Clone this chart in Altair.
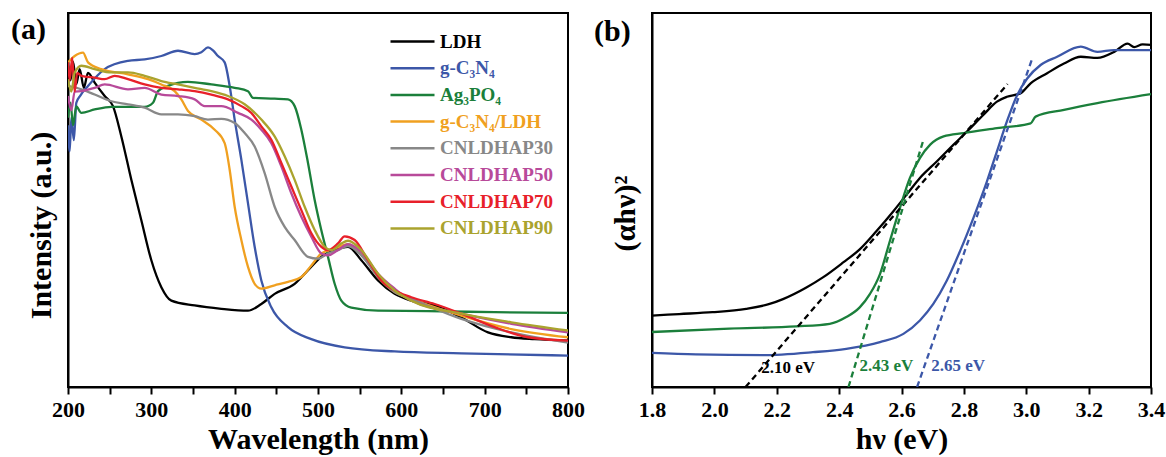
import altair as alt
import pandas as pd

FONT = "Liberation Serif"

# ---------------- panel (a): UV-vis DRS ----------------
names_a = ["LDH", "g-C₃N₄", "Ag₃PO₄", "g-C₃N₄/LDH", "CNLDHAP30", "CNLDHAP50", "CNLDHAP70", "CNLDHAP90"]
colors_a = ["#000000", "#3c57a8", "#1b7f3b", "#f0a020", "#888888", "#b84a9a", "#e8202a", "#aaa32e"]

ldh_wl = [200, 203, 206, 210, 214, 219, 224, 232, 244, 254, 264, 276, 288, 300, 312, 324, 352, 384, 416, 432, 448, 472, 488, 504, 520, 536, 552, 572, 592, 612, 640, 672, 704, 732, 760, 800]
ldh_i = [86, 82, 87, 81, 85, 80, 84, 81.4, 77.8, 75.1, 67.0, 55.4, 44.6, 33.9, 26.7, 23.1, 21.8, 20.9, 20.4, 22.2, 24.9, 27.6, 31.2, 34.8, 36.6, 37.5, 33.9, 28.5, 24.9, 23.1, 21.8, 18.6, 14.6, 13.3, 12.8, 12.4]

gcn_wl = [200, 202, 204, 207, 210, 215, 224, 244, 272, 292, 312, 332, 352, 360, 368, 374, 380, 388, 394, 400, 408, 416, 424, 432, 444, 464, 492, 532, 592, 672, 800]
gcn_i = [70, 63, 72, 66, 76, 78, 80.5, 85, 87.2, 87.6, 88.5, 89.9, 89, 89.5, 90.8, 90, 88.5, 86.8, 80.5, 71.5, 60.8, 49.1, 37.5, 28.5, 21.3, 16.0, 12.8, 10.6, 9.5, 9.0, 8.4]

ag_wl = [200, 203, 206, 210, 216, 232, 252, 292, 302, 308, 320, 344, 372, 400, 416, 422, 448, 464, 472, 480, 488, 496, 504, 512, 520, 528, 540, 572, 632, 712, 800]
ag_i = [72, 76, 70, 75, 73.3, 74.2, 74.9, 74.9, 76.0, 79.1, 80.5, 81.6, 80.9, 80.0, 79.1, 77.3, 77.1, 76.9, 75.1, 68.8, 59.9, 50.0, 41.9, 34.8, 27.6, 23.1, 21.2, 20.4, 20.3, 20.0, 19.8]

cnl_wl = [200, 208, 218, 224, 240, 272, 296, 312, 328, 336, 344, 360, 376, 388, 394, 400, 408, 416, 424, 432, 448, 464, 480, 492, 504, 520, 536, 552, 572, 592, 612, 672, 732, 800]
cnl_i = [86.8, 88.5, 89.4, 86.8, 85.0, 83.6, 82.3, 80.9, 79.1, 76.9, 73.8, 71.5, 68.8, 65.2, 58.1, 48.2, 39.3, 32.1, 27.6, 26.3, 27.2, 28.1, 29.4, 32.5, 35.7, 37.0, 38.2, 35.7, 29.4, 25.4, 23.6, 19.1, 15.5, 13.3]

p30_wl = [200, 216, 232, 252, 272, 292, 312, 332, 352, 368, 384, 400, 412, 424, 436, 448, 460, 472, 488, 500, 512, 524, 536, 552, 572, 592, 612, 672, 732, 800]
p30_i = [80.5, 79.6, 78.2, 76.4, 75.6, 74.7, 72.9, 72.9, 72.4, 71.5, 71.7, 70.6, 67.9, 64.3, 57.2, 48.2, 42.8, 39.3, 34.8, 34.3, 35.7, 36.6, 37.7, 35.2, 29.4, 25.4, 23.6, 18.2, 14.6, 11.9]

p50_wl = [200, 204, 208, 216, 232, 244, 272, 292, 312, 332, 352, 364, 384, 404, 420, 432, 444, 456, 468, 480, 492, 504, 512, 524, 536, 552, 572, 592, 612, 672, 732, 800]
p50_i = [77.8, 74, 79, 79.1, 80.0, 80.9, 79.6, 80.0, 78.2, 77.8, 76.9, 75.1, 75.1, 73.3, 71.5, 68.8, 65.2, 59.0, 51.8, 45.5, 40.2, 35.7, 35.2, 36.6, 38.2, 36.1, 30.3, 26.3, 23.1, 19.6, 16.9, 14.6]

p70_wl = [200, 202, 205, 208, 211, 216, 232, 244, 256, 272, 292, 312, 332, 352, 372, 392, 408, 420, 432, 444, 456, 468, 480, 492, 504, 512, 524, 532, 544, 560, 576, 592, 612, 640, 672, 712, 752, 800]
p70_i = [86.8, 82, 88, 79, 84, 83.2, 82.7, 82.3, 83.2, 82.3, 80.9, 80.0, 79.6, 79.1, 78.2, 76.9, 75.1, 73.3, 69.7, 66.1, 59.9, 53.6, 47.3, 41.1, 37.5, 36.6, 38.4, 40.3, 39.3, 33.9, 28.5, 25.8, 24.0, 22.2, 19.6, 16.0, 13.3, 12.4]

p90_wl = [200, 204, 208, 216, 232, 252, 272, 292, 312, 332, 352, 372, 392, 412, 432, 448, 460, 472, 484, 496, 508, 516, 528, 536, 552, 572, 592, 612, 672, 732, 800]
p90_i = [82.3, 79, 84, 85.9, 85.0, 84.1, 84.1, 83.2, 81.8, 80.9, 80.0, 79.1, 77.8, 75.6, 71.5, 67.0, 61.7, 55.4, 48.2, 42.0, 37.5, 36.6, 38.4, 39.1, 36.6, 30.3, 25.8, 23.1, 19.6, 17.3, 15.1]

series_a = [(ldh_wl, ldh_i), (gcn_wl, gcn_i), (ag_wl, ag_i), (cnl_wl, cnl_i),
            (p30_wl, p30_i), (p50_wl, p50_i), (p70_wl, p70_i), (p90_wl, p90_i)]
ticks_a = [200, 250, 300, 350, 400, 450, 500, 550, 600, 650, 700, 750, 800]

# ---------------- panel (b): Tauc plot ----------------
names_b = ["LDH", "g-C₃N₄", "Ag₃PO₄"]
colors_b = ["#000000", "#3c57a8", "#1b7f3b"]

ldh_ev = [1.80, 1.887, 1.994, 2.102, 2.177, 2.220, 2.295, 2.348, 2.413, 2.466, 2.520, 2.574, 2.617, 2.659, 2.713, 2.767, 2.810, 2.863, 2.906, 2.938, 2.981, 3.014, 3.067, 3.121, 3.175, 3.228, 3.282, 3.325, 3.346, 3.373, 3.40]
ldh_ah = [19.1, 19.5, 20.0, 20.9, 22.2, 23.5, 26.6, 29.3, 33.3, 36.8, 41.7, 47.0, 51.5, 55.9, 60.3, 64.8, 68.3, 72.8, 76.3, 77.6, 78.5, 81.2, 83.9, 86.5, 88.3, 88.0, 89.6, 91.8, 90.9, 91.6, 91.5]

gcn_ev = [1.80, 1.941, 2.155, 2.316, 2.423, 2.531, 2.606, 2.659, 2.702, 2.745, 2.788, 2.831, 2.874, 2.906, 2.938, 2.971, 3.003, 3.046, 3.099, 3.175, 3.228, 3.282, 3.40]
gcn_ah = [9.1, 8.7, 8.5, 9.3, 10.2, 12.0, 14.2, 17.8, 22.2, 28.4, 36.4, 45.3, 55.0, 63.0, 71.0, 78.1, 82.5, 86.1, 88.3, 91.0, 89.6, 90.1, 90.1]

ag_ev = [1.80, 2.048, 2.263, 2.370, 2.423, 2.466, 2.499, 2.531, 2.563, 2.595, 2.627, 2.659, 2.692, 2.735, 2.799, 2.906, 3.014, 3.030, 3.121, 3.228, 3.40]
ag_ah = [14.7, 15.6, 16.2, 16.9, 18.7, 21.3, 24.9, 30.2, 39.1, 47.9, 55.9, 61.2, 64.8, 67.0, 67.9, 69.2, 70.5, 72.3, 74.1, 75.9, 78.3]

series_b = [(ldh_ev, ldh_ah), (gcn_ev, gcn_ah), (ag_ev, ag_ah)]

# tangent (band-gap) lines, in the order of names_b: LDH, g-C3N4, Ag3PO4
fit_ev0 = [2.10, 2.65, 2.43]
fit_y0 = [0, 0, 0]
fit_ev1 = [2.94, 3.02, 2.67]
fit_y1 = [81, 88, 66]
gap_text = ["2.10 eV", "2.65 eV", "2.43 eV"]
gap_x = [2.15, 2.695, 2.465]
gap_y = [5.0, 5.5, 5.5]
ticks_b = [1.8, 1.9, 2.0, 2.1, 2.2, 2.3, 2.4, 2.5, 2.6, 2.7, 2.8, 2.9, 3.0, 3.1, 3.2, 3.3, 3.4]

# ---------------- build tables ----------------
rows = []
for n, (xs, ys) in zip(names_a, series_a):
    for k, (x, y) in enumerate(zip(xs, ys)):
        rows.append({"sample": n, "wl": x, "I": y, "k": k})
df_a = pd.DataFrame(rows)

rows = []
for n, (xs, ys) in zip(names_b, series_b):
    for k, (x, y) in enumerate(zip(xs, ys)):
        rows.append({"sample": n, "ev": x, "I": y, "k": k})
df_b = pd.DataFrame(rows)

rows = []
for n, a0, b0, a1, b1 in zip(names_b, fit_ev0, fit_y0, fit_ev1, fit_y1):
    rows.append({"sample": n, "ev": a0, "I": b0, "k": 0})
    rows.append({"sample": n, "ev": a1, "I": b1, "k": 1})
df_fit = pd.DataFrame(rows)
df_gap = pd.DataFrame({"sample": names_b, "ev": gap_x, "I": gap_y, "t": gap_text})


def color_expr(names, colors):
    expr = "'#000000'"
    for n, c in reversed(list(zip(names, colors))):
        expr = f"datum.label == '{n}' ? '{c}' : ({expr})"
    return expr


scale_a = alt.Scale(domain=names_a, range=colors_a)
scale_b = alt.Scale(domain=names_b, range=colors_b)

legend_a = alt.Legend(
    orient="none", legendX=321, legendY=19, title=None, symbolType="stroke",
    symbolSize=1936, symbolStrokeWidth=2.5, clipHeight=19, labelFont=FONT,
    labelFontSize=19, labelFontWeight="bold", labelOffset=4, rowPadding=6.7,
    padding=0, labelColor={"expr": color_expr(names_a, colors_a)},
)
legend_b = alt.Legend(
    orient="none", legendX=26, legendY=16, title=None, symbolType="stroke",
    symbolSize=2116, symbolStrokeWidth=2.5, clipHeight=20, labelFont=FONT,
    labelFontSize=20, labelFontWeight="bold", labelOffset=4, rowPadding=9,
    padding=0, labelColor={"expr": color_expr(names_b, colors_b)},
)

x_a = alt.X("wl:Q", scale=alt.Scale(domain=[200, 800], nice=False),
            axis=alt.Axis(title="Wavelength (nm)", values=ticks_a, labelFlush=False,
                          labelExpr="datum.value % 100 == 0 ? datum.label : ''"))
y_a = alt.Y("I:Q", scale=alt.Scale(domain=[0, 100], nice=False),
            axis=alt.Axis(title="Intensity (a.u.)", labels=False, ticks=False, titleY=212))

lines_a = alt.Chart(df_a).mark_line(strokeWidth=2.3, clip=True, interpolate="monotone").encode(
    x=x_a, y=y_a,
    color=alt.Color("sample:N", scale=scale_a, legend=legend_a, sort=names_a),
    order="k:Q",
)
tag_a = alt.Chart(pd.DataFrame({"t": ["(a)"]})).mark_text(
    font=FONT, fontSize=30, fontWeight="bold", align="left", baseline="middle"
).encode(text="t:N", x=alt.value(-57), y=alt.value(17))

panel_a = alt.layer(lines_a, tag_a).properties(width=500, height=374)

x_b = alt.X("ev:Q", scale=alt.Scale(domain=[1.8, 3.4], nice=False),
            axis=alt.Axis(title="hν (eV)", values=ticks_b, labelFlush=False,
                          labelExpr="round(datum.value * 10) % 2 == 0 ? format(datum.value, '.1f') : ''"))
y_b = alt.Y("I:Q", scale=alt.Scale(domain=[0, 100], nice=False),
            axis=alt.Axis(title="(αhν)²", labels=False, ticks=False, titleY=200))

lines_b = alt.Chart(df_b).mark_line(strokeWidth=2.3, clip=True, interpolate="monotone").encode(
    x=x_b, y=y_b,
    color=alt.Color("sample:N", scale=scale_b, legend=legend_b, sort=names_b),
    order="k:Q",
)
fits_b = alt.Chart(df_fit).mark_line(strokeWidth=2.3, strokeDash=[6, 4], clip=True).encode(
    x="ev:Q", y="I:Q",
    color=alt.Color("sample:N", scale=scale_b, legend=None),
    order="k:Q",
)
gaps_b = alt.Chart(df_gap).mark_text(
    font=FONT, fontSize=17, fontWeight="bold", align="left", baseline="middle"
).encode(
    x="ev:Q", y="I:Q", text="t:N",
    color=alt.Color("sample:N", scale=scale_b, legend=None),
)
tag_b = alt.Chart(pd.DataFrame({"t": ["(b)"]})).mark_text(
    font=FONT, fontSize=30, fontWeight="bold", align="left", baseline="middle"
).encode(text="t:N", x=alt.value(-58), y=alt.value(19))

panel_b = alt.layer(lines_b, fits_b, gaps_b, tag_b).properties(width=499, height=374)

chart = alt.hconcat(panel_a, panel_b, spacing=84, bounds="flush").properties(
    padding={"left": 10, "top": 12, "right": 0, "bottom": 0}
).configure_view(
    stroke="black", strokeWidth=2
).configure_axis(
    grid=False, domainColor="black", domainWidth=2, tickColor="black", tickWidth=2,
    tickSize=7, labelFont=FONT, labelFontSize=22, labelFontWeight="bold",
    labelColor="black", labelPadding=5, titleFont=FONT, titleFontSize=30,
    titleFontWeight="bold", titleColor="black", titlePadding=4,
).configure_axisY(
    titlePadding=12
)

chart.save("out.html", embed_options={"renderer": "svg", "actions": False})
